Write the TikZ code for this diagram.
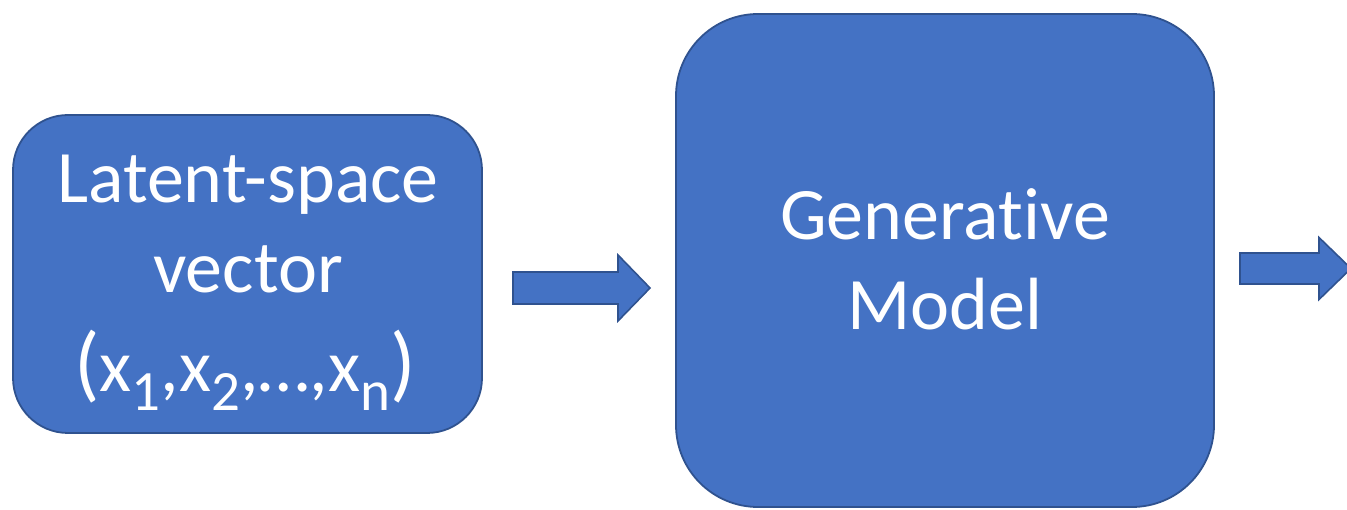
\documentclass[tikz,border=0pt]{standalone}
\usepackage{fontspec}
\setmainfont{Carlito}[Ligatures=NoCommon]
\definecolor{boxfill}{HTML}{4472C4}
\definecolor{boxline}{HTML}{2F528F}

\tikzset{
  block/.style={draw=boxline, fill=boxfill, line width=1.8pt, inner sep=0pt},
  lbl/.style={text=white, anchor=base, inner sep=0pt, font=\fontsize{74}{89}\selectfont},
  flow/.style={draw=boxline, fill=boxfill, line width=1.6pt, line join=miter},
}
% lowered, smaller index for the vector components
\newcommand\idx[1]{\raisebox{-18pt}{\fontsize{57}{57}\selectfont #1}}
% taller brackets round the vector
\newcommand\bigpar[1]{{\fontsize{84}{84}\selectfont #1}}
% block arrow: tail x, head x, tip x, axis y, shaft half width, head half width
\newcommand\blockarrow[6]{%
  \draw[flow] (#1,#4-#5) -- (#2,#4-#5) -- (#2,#4-#6) -- (#3,#4)
    -- (#2,#4+#6) -- (#2,#4+#5) -- (#1,#4+#5) -- cycle;}

\begin{document}
\begin{tikzpicture}[x=1pt,y=-1pt]
\useasboundingbox (0,0) rectangle (1347,510);
\clip (0,0) rectangle (1347,510);

% input box
\node[block, rounded corners=55pt, minimum width=469pt, minimum height=318pt]
  (latent) at (247.5,274) {};
\node[lbl] (latentA) at (248,203) {Latent-space};
\node[lbl] (latentB) at (248,293) {vector};
\node[lbl] (latentC) at (245,392) {\bigpar{(}x\idx{1},x\idx{2},…,x\idx{n}\bigpar{)}};

% model box
\node[block, rounded corners=82pt, minimum width=538pt, minimum height=493pt]
  (model) at (945,260.5) {};
\node[lbl] (modelA) at (945,240) {Generative};
\node[lbl] (modelB) at (945,330) {Model};

% flow arrows
\blockarrow{513}{618}{650}{288}{16}{33}
\blockarrow{1240}{1319}{1351}{268.5}{15.5}{31}
\end{tikzpicture}
\end{document}
